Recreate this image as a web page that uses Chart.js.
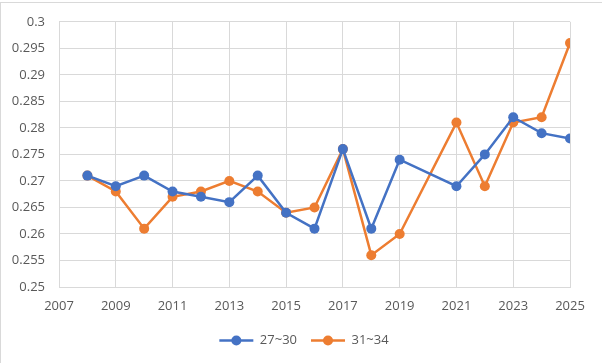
<!DOCTYPE html>
<html>
<head>
<meta charset="utf-8">
<script src="https://cdn.jsdelivr.net/npm/chart.js@4.4.1/dist/chart.umd.min.js"></script>
<style>
  body { margin: 0; background: #fff; }
  #wrap { position: absolute; left: 0; top: 0; width: 602px; height: 363px; }
  #frame { position: absolute; left: 0; top: 2px; width: 620px; height: 380px; border: 1px solid #d9d9d9; box-sizing: border-box; }
  canvas { position: absolute; left: 0; top: 0; }
</style>
</head>
<body>
<div id="wrap">
  <div id="frame"></div>
  <canvas id="chart" width="602" height="363"></canvas>
</div>
<script>
const years = [2008, 2009, 2010, 2011, 2012, 2013, 2014, 2015, 2016, 2017, 2018, 2019, 2021, 2022, 2023, 2024, 2025];
const age27to30 = [0.271, 0.269, 0.271, 0.268, 0.267, 0.266, 0.271, 0.264, 0.261, 0.276, 0.261, 0.274, 0.269, 0.275, 0.282, 0.279, 0.278];
const age31to34 = [0.271, 0.268, 0.261, 0.267, 0.268, 0.270, 0.268, 0.264, 0.265, 0.276, 0.256, 0.260, 0.281, 0.269, 0.281, 0.282, 0.296];

const font = "'Open Sans', 'Liberation Sans', sans-serif";

function toPoints(vals) {
    return years.map((y, i) => ({ x: y, y: vals[i] }));
}

function series(label, vals, color) {
    return {
        label: label,
        data: toPoints(vals),
        borderColor: color,
        backgroundColor: color,
        borderWidth: 2.5,
        pointRadius: 5,
        pointHoverRadius: 5,
        pointBorderWidth: 0,
        tension: 0
    };
}

const ctx = document.getElementById('chart');

const chart = new Chart(ctx, {
    type: 'line',
    data: {
        datasets: [
            series('27~30', age27to30, '#4472C4'),
            series('31~34', age31to34, '#ED7D31')
        ]
    },
    options: {
        responsive: false,
        animation: false,
        layout: { padding: { left: 0, right: 32, top: 21, bottom: 6 } },
        plugins: {
            tooltip: { enabled: false },
            legend: {
                position: 'bottom',
                labels: {
                    font: { family: font, size: 13 },
                    color: '#595959',
                    usePointStyle: true,
                    pointStyleWidth: 34,
                    boxHeight: 10,
                    padding: 14,
                    generateLabels: function (c) {
                        return c.data.datasets.map((ds, i) => ({
                            text: ds.label,
                            fillStyle: ds.borderColor,
                            strokeStyle: ds.borderColor,
                            lineWidth: 0,
                            pointStyle: 'line',
                            datasetIndex: i,
                            fontColor: '#595959'
                        }));
                    }
                }
            }
        },
        scales: {
            x: {
                type: 'linear',
                min: 2007,
                max: 2025,
                ticks: {
                    stepSize: 2,
                    color: '#595959',
                    font: { family: font, size: 13 },
                    padding: 11,
                    callback: v => String(v)
                },
                grid: { color: '#d9d9d9', drawTicks: false },
                border: { color: '#d9d9d9' },
                afterFit: s => { s.height = 33; }
            },
            y: {
                min: 0.25,
                max: 0.3,
                ticks: {
                    stepSize: 0.005,
                    color: '#595959',
                    font: { family: font, size: 13 },
                    padding: 14,
                    callback: v => String(parseFloat(v.toFixed(3)))
                },
                grid: { color: '#d9d9d9', drawTicks: false },
                border: { color: '#d9d9d9' },
                afterFit: s => { s.width = 59; }
            }
        }
    },
    plugins: [{
        id: 'legendLines',
        afterUpdate(c) {
            // centre the legend on the whole picture, not the padded box
            const lg = c.legend;
            lg.left += 19;
            lg.right += 19;
            lg.legendHitBoxes.forEach(b => { b.left += 19; });
        },
        afterDraw(c) {
            // line with a dot for each legend entry
            const lg = c.legend;
            const g = c.ctx;
            lg.legendHitBoxes.forEach((box, i) => {
                const col = c.data.datasets[i].borderColor;
                const cy = box.top + box.height / 2;
                g.save();
                g.strokeStyle = col;
                g.lineWidth = 2.5;
                g.beginPath();
                g.moveTo(box.left, cy);
                g.lineTo(box.left + 34, cy);
                g.stroke();
                g.fillStyle = col;
                g.beginPath();
                g.arc(box.left + 17, cy, 5, 0, Math.PI * 2);
                g.fill();
                g.restore();
            });
        }
    }]
});
</script>
</body>
</html>
